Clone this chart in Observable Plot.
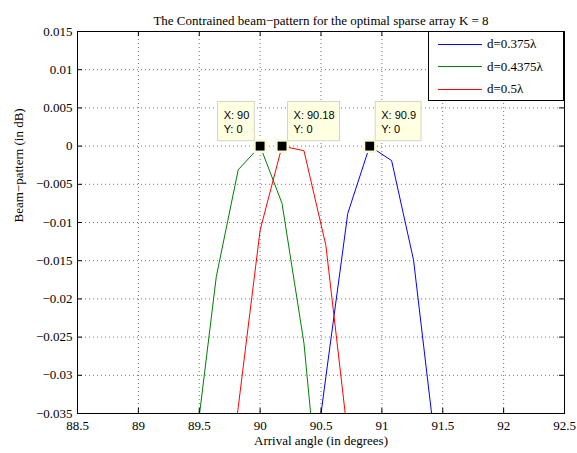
<!DOCTYPE html>
<html><head><meta charset="utf-8">
<script src="https://cdn.jsdelivr.net/npm/d3@7"></script>
<script src="https://cdn.jsdelivr.net/npm/@observablehq/plot@0.6"></script>
<style>
body{margin:0;background:#fff;}
#wrap{position:relative;width:577px;height:453px;}
#legend{position:absolute;left:428px;top:31px;width:136px;height:70px;border:1px solid #000;background:#fff;font-family:"Liberation Serif",serif;font-size:13px;box-sizing:border-box;}
.row{position:absolute;left:9px;height:14px;display:flex;align-items:center;white-space:nowrap;}
.sw{width:44px;height:0;border-top:1px solid;margin-right:5px;}
</style></head>
<body><div id="wrap"><div id="legend"></div></div>
<script>
// ---- data ----
const angles = [89.46, 89.64, 89.82, 90.00, 90.18, 90.36, 90.54, 90.72, 90.90, 91.08, 91.26, 91.44];
const seriesNames = ["d=0.375λ", "d=0.4375λ", "d=0.5λ"];
const blueValues  = [null, null, null, null, null, -0.0520, -0.0302, -0.0088, 0, -0.0019, -0.0149, -0.0393];
const greenValues = [-0.0406, -0.0171, -0.0031, 0, -0.0075, -0.0258, -0.0559, null, null, null, null, null];
const redValues   = [null, -0.0574, -0.0342, -0.0110, 0, -0.0006, -0.0130, -0.0379, null, null, null, null];
const tipX = [90, 90.18, 90.9];
const tipY = [0, 0, 0];
const xTicks = [88.5, 89, 89.5, 90, 90.5, 91, 91.5, 92, 92.5];
const yTicks = [0.015, 0.01, 0.005, 0, -0.005, -0.01, -0.015, -0.02, -0.025, -0.03, -0.035];
const titleText = "The Contrained beam−pattern for the optimal sparse array K = 8";
const xLabel = "Arrival angle (in degrees)";
const yLabel = "Beam−pattern (in dB)";

// ---- styling ----
const colors = ["#0000ff", "#008000", "#ff0000"];
const W = 577, H = 453, mT = 31, mB = 40, mL = 77, mR = 13;
const frameW = W - mL - mR, frameH = H - mT - mB, tickLen = 5;

const allValues = [blueValues, greenValues, redValues];
const rows = [];
allValues.forEach((vals, s) => angles.forEach((a, i) => {
  if (vals[i] != null) rows.push({angle: a, value: vals[i], series: seriesNames[s]});
}));
const tipData = tipX.map((x, i) => ({x, y: tipY[i], label: `X: ${x}\nY: ${tipY[i]}`}));
const fmtY = d => d < 0 ? "−" + String(Math.abs(d)) : String(d);
const gridStyle = {stroke: "#000", strokeOpacity: 0.55, strokeDasharray: "1,3"};
const tipFont = {fontFamily: "Liberation Sans, Arial, sans-serif", fontSize: 11, lineHeight: 1.2, fill: "black"};

const plot = Plot.plot({
  width: W, height: H,
  marginTop: mT, marginBottom: mB, marginLeft: mL, marginRight: mR,
  style: {fontFamily: "Liberation Serif, Times New Roman, serif", fontSize: "13px", background: "white", color: "black"},
  x: {domain: [88.5, 92.5]},
  y: {domain: [-0.035, 0.015]},
  color: {domain: seriesNames, range: colors},
  marks: [
    Plot.gridX(xTicks.slice(1, -1), gridStyle),
    Plot.gridY(yTicks.slice(1, -1), gridStyle),
    Plot.line(rows, {x: "angle", y: "value", z: "series", stroke: "series", strokeWidth: 1, clip: true}),
    Plot.dot(tipData, {x: "x", y: "y", symbol: "square", r: 7.8, fill: "#fbfbd6"}),
    Plot.dot(tipData, {x: "x", y: "y", symbol: "square", r: 5, fill: "black"}),
    Plot.text(tipData.filter((d, i) => i === 0), {x: "x", y: "y", text: "label", textAnchor: "start", lineAnchor: "top", dx: -36.5, dy: -36, ...tipFont}),
    Plot.text(tipData.filter((d, i) => i > 0), {x: "x", y: "y", text: "label", textAnchor: "start", lineAnchor: "top", dx: 11.5, dy: -36, ...tipFont}),
    // inward ticks on all four sides
    Plot.tickX(xTicks, {x: d => d, insetTop: frameH - tickLen}),
    Plot.tickX(xTicks, {x: d => d, insetBottom: frameH - tickLen}),
    Plot.tickY(yTicks, {y: d => d, insetRight: frameW - tickLen}),
    Plot.tickY(yTicks, {y: d => d, insetLeft: frameW - tickLen}),
    Plot.axisX(xTicks, {tickSize: 0, tickPadding: 7, tickFormat: d => String(d), label: null}),
    Plot.axisY(yTicks, {tickSize: 0, tickPadding: 5, tickFormat: fmtY, label: null}),
    Plot.frame({stroke: "black", strokeWidth: 1}),
    Plot.text([titleText], {text: d => d, frameAnchor: "top", dy: -16, fontSize: 13}),
    Plot.text([xLabel], {text: d => d, frameAnchor: "bottom", dy: 31, fontSize: 13}),
    Plot.text([yLabel], {text: d => d, frameAnchor: "left", dx: -59, rotate: -90, fontSize: 13})
  ]
});
const wrap = document.getElementById("wrap");
wrap.insertBefore(plot, wrap.firstChild);

// data-tip boxes behind the tip texts
Array.from(plot.querySelectorAll("text"))
  .filter(t => t.textContent.startsWith("X:"))
  .forEach(t => {
    const b = t.getBBox();
    const r = document.createElementNS("http://www.w3.org/2000/svg", "rect");
    r.setAttribute("x", b.x - 6);
    r.setAttribute("y", b.y - 8);
    r.setAttribute("width", b.width + 11);
    r.setAttribute("height", b.height + 14);
    r.setAttribute("fill", "#ffffe1");
    r.setAttribute("stroke", "#d4d4c4");
    if (t.getAttribute("transform")) r.setAttribute("transform", t.getAttribute("transform"));
    t.parentNode.insertBefore(r, t);
  });

// legend
const legend = document.getElementById("legend");
seriesNames.forEach((name, i) => {
  const row = document.createElement("div");
  row.className = "row";
  row.style.top = (5 + i * 22.5) + "px";
  row.innerHTML = `<span class="sw" style="border-color:${colors[i]}"></span><span>${name}</span>`;
  legend.appendChild(row);
});
</script>
</body></html>
